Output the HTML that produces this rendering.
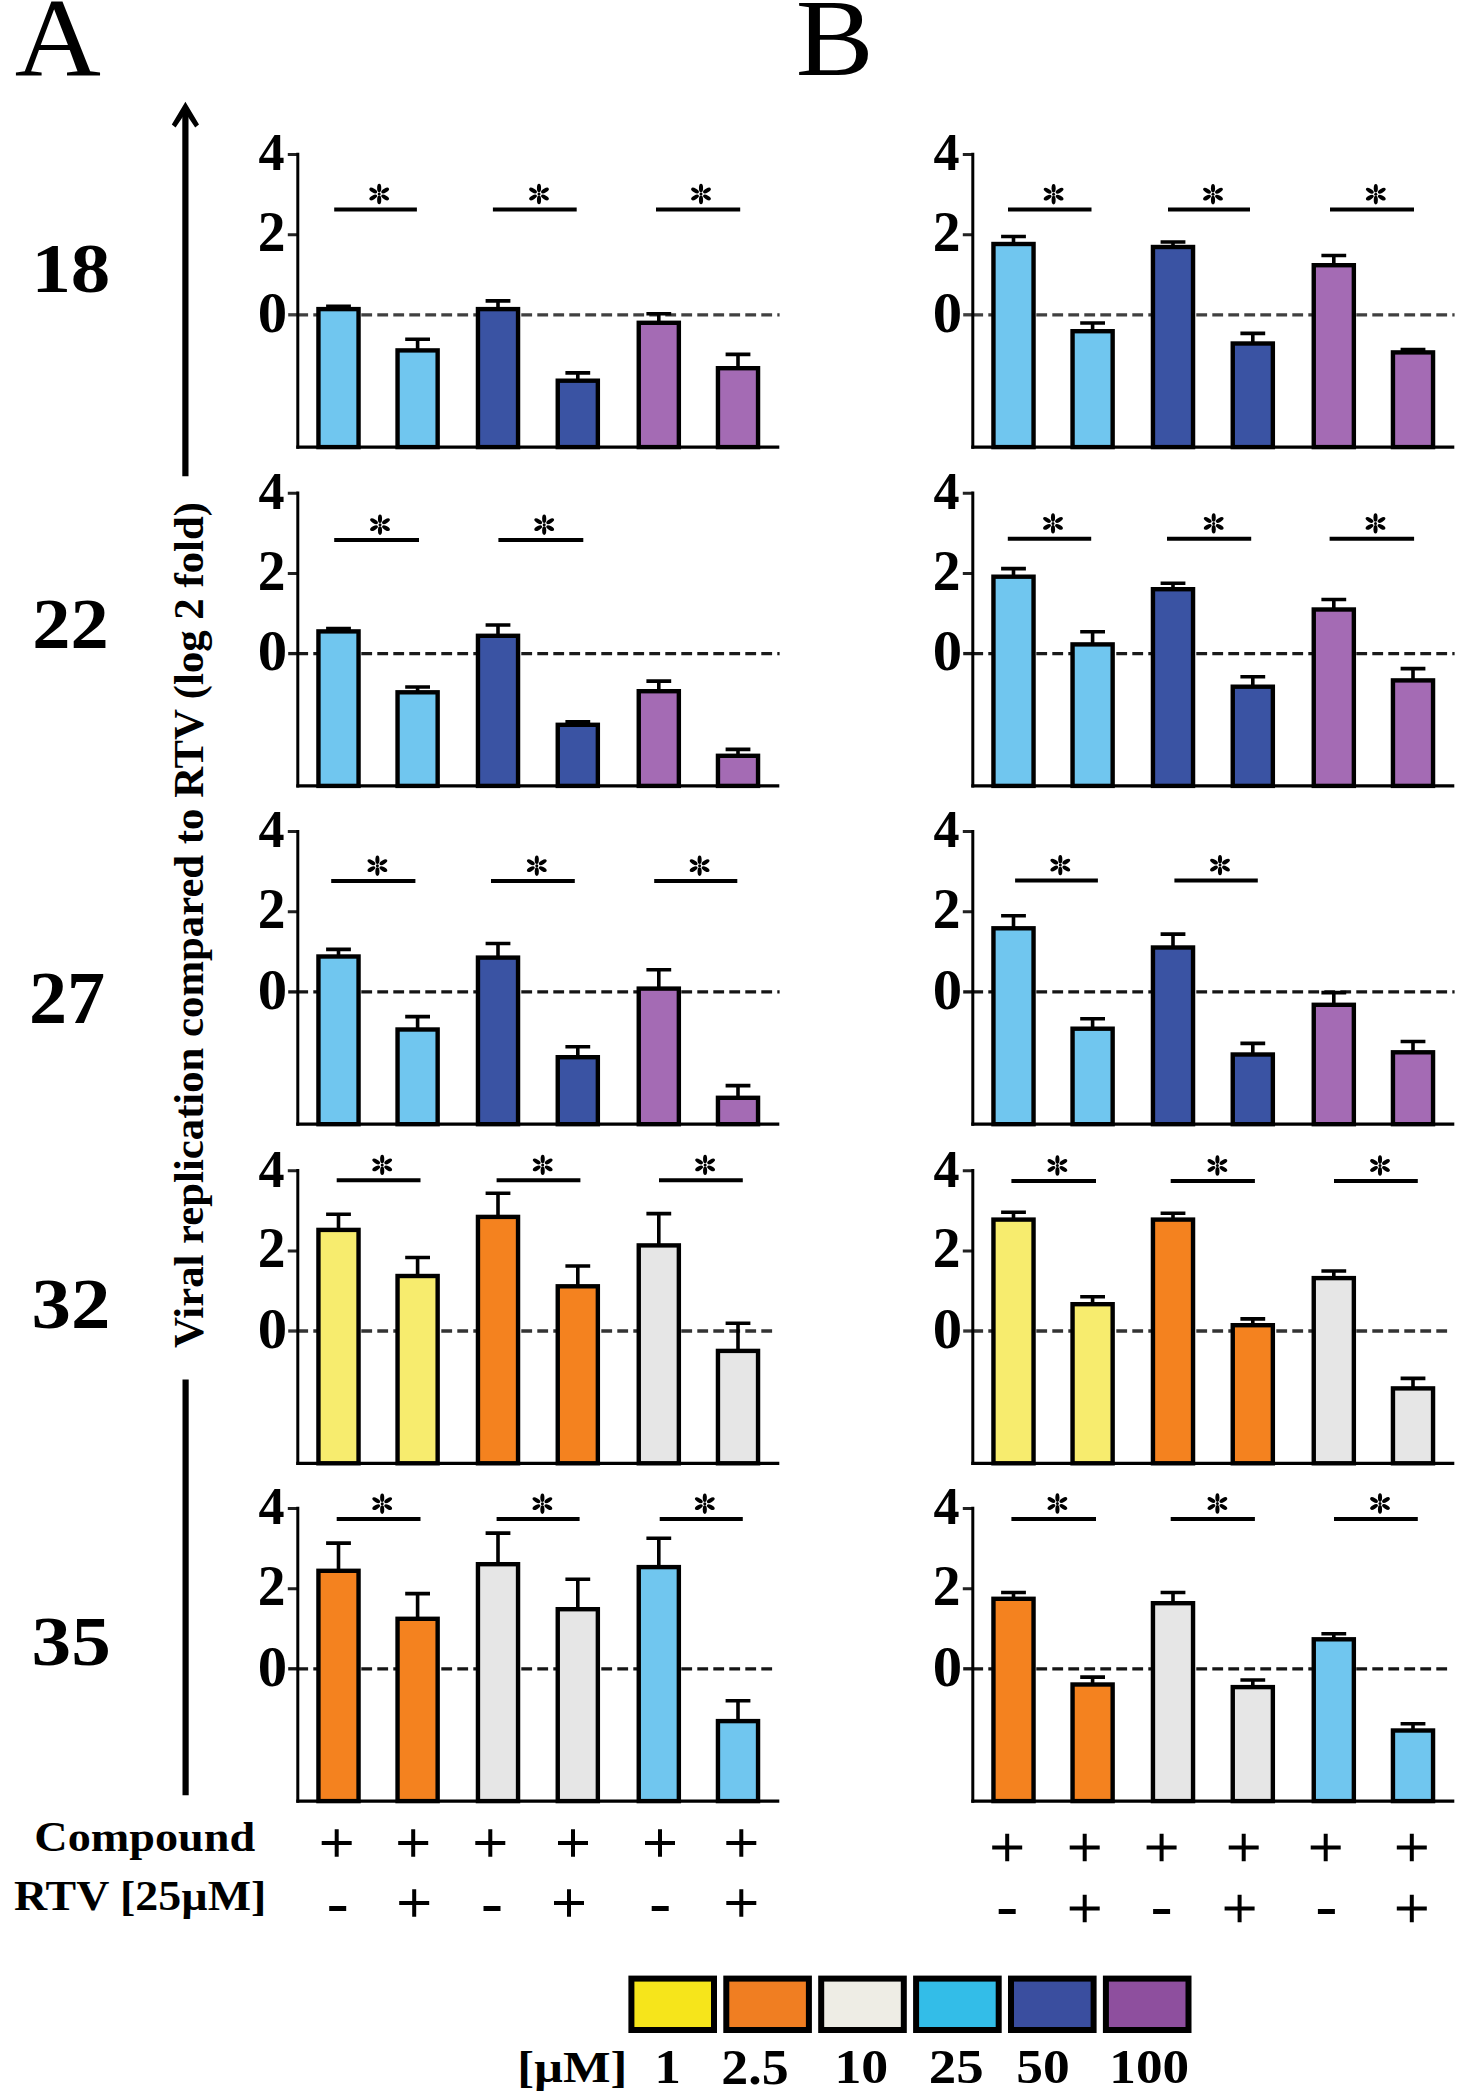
<!DOCTYPE html>
<html><head><meta charset="utf-8"><style>
html,body{margin:0;padding:0;background:#fff;}
svg{display:block;}
</style></head><body>
<svg width="1463" height="2100" viewBox="0 0 1463 2100">
<rect width="1463" height="2100" fill="#fff"/>
<defs><g id="ast" fill="#000"><ellipse cx="0.00" cy="5.90" rx="4.3" ry="2.05" transform="rotate(90 0.00 5.90)"/><ellipse cx="-0.00" cy="-5.90" rx="4.3" ry="2.05" transform="rotate(270 -0.00 -5.90)"/><ellipse cx="5.98" cy="3.45" rx="4.3" ry="2.05" transform="rotate(30 5.98 3.45)"/><ellipse cx="-5.98" cy="3.45" rx="4.3" ry="2.05" transform="rotate(150 -5.98 3.45)"/><ellipse cx="-5.98" cy="-3.45" rx="4.3" ry="2.05" transform="rotate(210 -5.98 -3.45)"/><ellipse cx="5.98" cy="-3.45" rx="4.3" ry="2.05" transform="rotate(330 5.98 -3.45)"/><circle r="1.5"/></g></defs>
<path d="M185.4 476.3V110M185.6 1379.6V1795.2" stroke="#000" stroke-width="6.2" fill="none"/>
<path d="M185.4 101.8L199 124.6L195.2 127.6L185.4 113L175.6 127.6L171.8 124.6Z" fill="#000"/>
<text transform="translate(203,1348) rotate(-90)" font-family="Liberation Serif" font-weight="bold" font-size="42.75">Viral replication compared to RTV (log 2 fold)</text>
<path d="M287.8 154.5H297.8M287.8 234.7H297.8" stroke="#222" stroke-width="3"/>
<line x1="297.3" y1="314.8" x2="779.6" y2="314.8" stroke="#404040" stroke-width="3.3" stroke-dasharray="10.8 5.2"/>
<line x1="288.2" y1="314.8" x2="297.8" y2="314.8" stroke="#404040" stroke-width="3.3"/>
<path d="M338.5 308.9V306.3M326.1 306.3H350.9" stroke="#000" stroke-width="3.6" fill="none"/>
<rect x="318.45" y="309.1" width="40.1" height="138" fill="#70C6EF" stroke="#000" stroke-width="4.4"/>
<path d="M417.6 350.2V339.3M405.2 339.3H430" stroke="#000" stroke-width="3.6" fill="none"/>
<rect x="397.55" y="350.4" width="40.1" height="96.7" fill="#70C6EF" stroke="#000" stroke-width="4.4"/>
<path d="M498 308.9V300.9M485.6 300.9H510.4" stroke="#000" stroke-width="3.6" fill="none"/>
<rect x="477.95" y="309.1" width="40.1" height="138" fill="#3A53A3" stroke="#000" stroke-width="4.4"/>
<path d="M577.8 380.5V372.9M565.4 372.9H590.2" stroke="#000" stroke-width="3.6" fill="none"/>
<rect x="557.75" y="380.7" width="40.1" height="66.4" fill="#3A53A3" stroke="#000" stroke-width="4.4"/>
<path d="M658.8 322.6V313.8M646.4 313.8H671.2" stroke="#000" stroke-width="3.6" fill="none"/>
<rect x="638.75" y="322.8" width="40.1" height="124.3" fill="#A46BB4" stroke="#000" stroke-width="4.4"/>
<path d="M738 368V354.4M725.6 354.4H750.4" stroke="#000" stroke-width="3.6" fill="none"/>
<rect x="717.95" y="368.2" width="40.1" height="78.9" fill="#A46BB4" stroke="#000" stroke-width="4.4"/>
<path d="M297.8 152.8V448.7" stroke="#000" stroke-width="3" fill="none"/>
<path d="M296.3 447.1H779.3" stroke="#000" stroke-width="3.2" fill="none"/>
<line x1="334.2" y1="209.4" x2="416.9" y2="209.4" stroke="#000" stroke-width="4"/>
<line x1="492.9" y1="209.4" x2="576.7" y2="209.4" stroke="#000" stroke-width="4"/>
<line x1="656" y1="209.4" x2="740.2" y2="209.4" stroke="#000" stroke-width="4"/>
<use href="#ast" x="379.2" y="194"/>
<use href="#ast" x="539" y="194"/>
<use href="#ast" x="701" y="194"/>
<path d="M962.8 154.5H972.8M962.8 234.7H972.8" stroke="#222" stroke-width="3"/>
<line x1="972.3" y1="314.8" x2="1454.6" y2="314.8" stroke="#404040" stroke-width="3.3" stroke-dasharray="10.8 5.2"/>
<line x1="963.2" y1="314.8" x2="972.8" y2="314.8" stroke="#404040" stroke-width="3.3"/>
<path d="M1013.5 243.8V236.5M1001.1 236.5H1025.9" stroke="#000" stroke-width="3.6" fill="none"/>
<rect x="993.45" y="244" width="40.1" height="203.1" fill="#70C6EF" stroke="#000" stroke-width="4.4"/>
<path d="M1092.6 331V323M1080.2 323H1105" stroke="#000" stroke-width="3.6" fill="none"/>
<rect x="1072.55" y="331.2" width="40.1" height="115.9" fill="#70C6EF" stroke="#000" stroke-width="4.4"/>
<path d="M1173 246.8V242M1160.6 242H1185.4" stroke="#000" stroke-width="3.6" fill="none"/>
<rect x="1152.95" y="247" width="40.1" height="200.1" fill="#3A53A3" stroke="#000" stroke-width="4.4"/>
<path d="M1252.8 343.3V333.4M1240.4 333.4H1265.2" stroke="#000" stroke-width="3.6" fill="none"/>
<rect x="1232.75" y="343.5" width="40.1" height="103.6" fill="#3A53A3" stroke="#000" stroke-width="4.4"/>
<path d="M1333.8 265V255.5M1321.4 255.5H1346.2" stroke="#000" stroke-width="3.6" fill="none"/>
<rect x="1313.75" y="265.2" width="40.1" height="181.9" fill="#A46BB4" stroke="#000" stroke-width="4.4"/>
<path d="M1413 352.2V349.6M1400.6 349.6H1425.4" stroke="#000" stroke-width="3.6" fill="none"/>
<rect x="1392.95" y="352.4" width="40.1" height="94.7" fill="#A46BB4" stroke="#000" stroke-width="4.4"/>
<path d="M972.8 152.8V448.7" stroke="#000" stroke-width="3" fill="none"/>
<path d="M971.3 447.1H1454.3" stroke="#000" stroke-width="3.2" fill="none"/>
<line x1="1008" y1="209.6" x2="1091.5" y2="209.6" stroke="#000" stroke-width="4"/>
<line x1="1168" y1="209.6" x2="1250" y2="209.6" stroke="#000" stroke-width="4"/>
<line x1="1330" y1="209.6" x2="1414" y2="209.6" stroke="#000" stroke-width="4"/>
<use href="#ast" x="1053.6" y="194.2"/>
<use href="#ast" x="1213" y="194.2"/>
<use href="#ast" x="1375.8" y="194.2"/>
<path d="M287.8 493.3H297.8M287.8 573.5H297.8" stroke="#222" stroke-width="3"/>
<line x1="297.3" y1="653.6" x2="779.6" y2="653.6" stroke="#1a1a1a" stroke-width="3.3" stroke-dasharray="10.8 5.2"/>
<line x1="288.2" y1="653.6" x2="297.8" y2="653.6" stroke="#1a1a1a" stroke-width="3.3"/>
<path d="M338.5 631.2V628.6M326.1 628.6H350.9" stroke="#000" stroke-width="3.6" fill="none"/>
<rect x="318.45" y="631.4" width="40.1" height="154.5" fill="#70C6EF" stroke="#000" stroke-width="4.4"/>
<path d="M417.6 692.1V687M405.2 687H430" stroke="#000" stroke-width="3.6" fill="none"/>
<rect x="397.55" y="692.3" width="40.1" height="93.6" fill="#70C6EF" stroke="#000" stroke-width="4.4"/>
<path d="M498 635.6V625M485.6 625H510.4" stroke="#000" stroke-width="3.6" fill="none"/>
<rect x="477.95" y="635.8" width="40.1" height="150.1" fill="#3A53A3" stroke="#000" stroke-width="4.4"/>
<path d="M577.8 724.6V721.7M565.4 721.7H590.2" stroke="#000" stroke-width="3.6" fill="none"/>
<rect x="557.75" y="724.8" width="40.1" height="61.1" fill="#3A53A3" stroke="#000" stroke-width="4.4"/>
<path d="M658.8 691V681.1M646.4 681.1H671.2" stroke="#000" stroke-width="3.6" fill="none"/>
<rect x="638.75" y="691.2" width="40.1" height="94.7" fill="#A46BB4" stroke="#000" stroke-width="4.4"/>
<path d="M738 755.6V749.4M725.6 749.4H750.4" stroke="#000" stroke-width="3.6" fill="none"/>
<rect x="717.95" y="755.8" width="40.1" height="30.1" fill="#A46BB4" stroke="#000" stroke-width="4.4"/>
<path d="M297.8 491.6V787.5" stroke="#000" stroke-width="3" fill="none"/>
<path d="M296.3 785.9H779.3" stroke="#000" stroke-width="3.2" fill="none"/>
<line x1="334.2" y1="540.1" x2="419" y2="540.1" stroke="#000" stroke-width="4"/>
<line x1="498.4" y1="540.1" x2="583.3" y2="540.1" stroke="#000" stroke-width="4"/>
<use href="#ast" x="380" y="524.7"/>
<use href="#ast" x="544.2" y="524.7"/>
<path d="M962.8 493.3H972.8M962.8 573.5H972.8" stroke="#222" stroke-width="3"/>
<line x1="972.3" y1="653.6" x2="1454.6" y2="653.6" stroke="#1a1a1a" stroke-width="3.3" stroke-dasharray="10.8 5.2"/>
<line x1="963.2" y1="653.6" x2="972.8" y2="653.6" stroke="#1a1a1a" stroke-width="3.3"/>
<path d="M1013.5 576.5V568.6M1001.1 568.6H1025.9" stroke="#000" stroke-width="3.6" fill="none"/>
<rect x="993.45" y="576.7" width="40.1" height="209.2" fill="#70C6EF" stroke="#000" stroke-width="4.4"/>
<path d="M1092.6 644.2V631.8M1080.2 631.8H1105" stroke="#000" stroke-width="3.6" fill="none"/>
<rect x="1072.55" y="644.4" width="40.1" height="141.5" fill="#70C6EF" stroke="#000" stroke-width="4.4"/>
<path d="M1173 589V583.3M1160.6 583.3H1185.4" stroke="#000" stroke-width="3.6" fill="none"/>
<rect x="1152.95" y="589.2" width="40.1" height="196.7" fill="#3A53A3" stroke="#000" stroke-width="4.4"/>
<path d="M1252.8 686.5V676.7M1240.4 676.7H1265.2" stroke="#000" stroke-width="3.6" fill="none"/>
<rect x="1232.75" y="686.7" width="40.1" height="99.2" fill="#3A53A3" stroke="#000" stroke-width="4.4"/>
<path d="M1333.8 609.3V599.5M1321.4 599.5H1346.2" stroke="#000" stroke-width="3.6" fill="none"/>
<rect x="1313.75" y="609.5" width="40.1" height="176.4" fill="#A46BB4" stroke="#000" stroke-width="4.4"/>
<path d="M1413 680.2V668.6M1400.6 668.6H1425.4" stroke="#000" stroke-width="3.6" fill="none"/>
<rect x="1392.95" y="680.4" width="40.1" height="105.5" fill="#A46BB4" stroke="#000" stroke-width="4.4"/>
<path d="M972.8 491.6V787.5" stroke="#000" stroke-width="3" fill="none"/>
<path d="M971.3 785.9H1454.3" stroke="#000" stroke-width="3.2" fill="none"/>
<line x1="1007.8" y1="538.8" x2="1091.2" y2="538.8" stroke="#000" stroke-width="4"/>
<line x1="1167" y1="538.8" x2="1251.2" y2="538.8" stroke="#000" stroke-width="4"/>
<line x1="1329.6" y1="538.8" x2="1414.1" y2="538.8" stroke="#000" stroke-width="4"/>
<use href="#ast" x="1053" y="523.4"/>
<use href="#ast" x="1213.7" y="523.4"/>
<use href="#ast" x="1375.5" y="523.4"/>
<path d="M287.8 831.6H297.8M287.8 911.8H297.8" stroke="#222" stroke-width="3"/>
<line x1="297.3" y1="991.9" x2="779.6" y2="991.9" stroke="#151515" stroke-width="3.3" stroke-dasharray="10.8 5.2"/>
<line x1="288.2" y1="991.9" x2="297.8" y2="991.9" stroke="#151515" stroke-width="3.3"/>
<path d="M338.5 956.3V949.4M326.1 949.4H350.9" stroke="#000" stroke-width="3.6" fill="none"/>
<rect x="318.45" y="956.5" width="40.1" height="167.7" fill="#70C6EF" stroke="#000" stroke-width="4.4"/>
<path d="M417.6 1029.3V1016.6M405.2 1016.6H430" stroke="#000" stroke-width="3.6" fill="none"/>
<rect x="397.55" y="1029.5" width="40.1" height="94.7" fill="#70C6EF" stroke="#000" stroke-width="4.4"/>
<path d="M498 957.4V943.5M485.6 943.5H510.4" stroke="#000" stroke-width="3.6" fill="none"/>
<rect x="477.95" y="957.6" width="40.1" height="166.6" fill="#3A53A3" stroke="#000" stroke-width="4.4"/>
<path d="M577.8 1057V1046.8M565.4 1046.8H590.2" stroke="#000" stroke-width="3.6" fill="none"/>
<rect x="557.75" y="1057.2" width="40.1" height="67" fill="#3A53A3" stroke="#000" stroke-width="4.4"/>
<path d="M658.8 988.4V969.7M646.4 969.7H671.2" stroke="#000" stroke-width="3.6" fill="none"/>
<rect x="638.75" y="988.6" width="40.1" height="135.6" fill="#A46BB4" stroke="#000" stroke-width="4.4"/>
<path d="M738 1097.6V1085.6M725.6 1085.6H750.4" stroke="#000" stroke-width="3.6" fill="none"/>
<rect x="717.95" y="1097.8" width="40.1" height="26.4" fill="#A46BB4" stroke="#000" stroke-width="4.4"/>
<path d="M297.8 829.9V1125.8" stroke="#000" stroke-width="3" fill="none"/>
<path d="M296.3 1124.2H779.3" stroke="#000" stroke-width="3.2" fill="none"/>
<line x1="331.2" y1="881.1" x2="415.4" y2="881.1" stroke="#000" stroke-width="4"/>
<line x1="491" y1="881.1" x2="574.8" y2="881.1" stroke="#000" stroke-width="4"/>
<line x1="654.2" y1="881.1" x2="737.3" y2="881.1" stroke="#000" stroke-width="4"/>
<use href="#ast" x="377.4" y="865.7"/>
<use href="#ast" x="536.8" y="865.7"/>
<use href="#ast" x="699.6" y="865.7"/>
<path d="M962.8 831.6H972.8M962.8 911.8H972.8" stroke="#222" stroke-width="3"/>
<line x1="972.3" y1="991.9" x2="1454.6" y2="991.9" stroke="#151515" stroke-width="3.3" stroke-dasharray="10.8 5.2"/>
<line x1="963.2" y1="991.9" x2="972.8" y2="991.9" stroke="#151515" stroke-width="3.3"/>
<path d="M1013.5 928.1V915.8M1001.1 915.8H1025.9" stroke="#000" stroke-width="3.6" fill="none"/>
<rect x="993.45" y="928.3" width="40.1" height="195.9" fill="#70C6EF" stroke="#000" stroke-width="4.4"/>
<path d="M1092.6 1028.5V1018.7M1080.2 1018.7H1105" stroke="#000" stroke-width="3.6" fill="none"/>
<rect x="1072.55" y="1028.7" width="40.1" height="95.5" fill="#70C6EF" stroke="#000" stroke-width="4.4"/>
<path d="M1173 947.3V934.1M1160.6 934.1H1185.4" stroke="#000" stroke-width="3.6" fill="none"/>
<rect x="1152.95" y="947.5" width="40.1" height="176.7" fill="#3A53A3" stroke="#000" stroke-width="4.4"/>
<path d="M1252.8 1054.3V1043.4M1240.4 1043.4H1265.2" stroke="#000" stroke-width="3.6" fill="none"/>
<rect x="1232.75" y="1054.5" width="40.1" height="69.7" fill="#3A53A3" stroke="#000" stroke-width="4.4"/>
<path d="M1333.8 1004.6V992.6M1321.4 992.6H1346.2" stroke="#000" stroke-width="3.6" fill="none"/>
<rect x="1313.75" y="1004.8" width="40.1" height="119.4" fill="#A46BB4" stroke="#000" stroke-width="4.4"/>
<path d="M1413 1052.1V1041.5M1400.6 1041.5H1425.4" stroke="#000" stroke-width="3.6" fill="none"/>
<rect x="1392.95" y="1052.3" width="40.1" height="71.9" fill="#A46BB4" stroke="#000" stroke-width="4.4"/>
<path d="M972.8 829.9V1125.8" stroke="#000" stroke-width="3" fill="none"/>
<path d="M971.3 1124.2H1454.3" stroke="#000" stroke-width="3.2" fill="none"/>
<line x1="1015.1" y1="880.5" x2="1097.9" y2="880.5" stroke="#000" stroke-width="4"/>
<line x1="1174.4" y1="880.5" x2="1257.8" y2="880.5" stroke="#000" stroke-width="4"/>
<use href="#ast" x="1060.3" y="865.1"/>
<use href="#ast" x="1220" y="865.1"/>
<path d="M287.8 1170.7H297.8M287.8 1250.9H297.8" stroke="#222" stroke-width="3"/>
<line x1="297.3" y1="1331" x2="773.8" y2="1331" stroke="#333333" stroke-width="3.3" stroke-dasharray="10.8 5.2"/>
<line x1="288.2" y1="1331" x2="297.8" y2="1331" stroke="#333333" stroke-width="3.3"/>
<path d="M338.5 1229.7V1214.3M326.1 1214.3H350.9" stroke="#000" stroke-width="3.6" fill="none"/>
<rect x="318.45" y="1229.9" width="40.1" height="233.4" fill="#F7EC6E" stroke="#000" stroke-width="4.4"/>
<path d="M417.6 1275.8V1257.5M405.2 1257.5H430" stroke="#000" stroke-width="3.6" fill="none"/>
<rect x="397.55" y="1276" width="40.1" height="187.3" fill="#F7EC6E" stroke="#000" stroke-width="4.4"/>
<path d="M498 1216.7V1193.2M485.6 1193.2H510.4" stroke="#000" stroke-width="3.6" fill="none"/>
<rect x="477.95" y="1216.9" width="40.1" height="246.4" fill="#F4821F" stroke="#000" stroke-width="4.4"/>
<path d="M577.8 1286.1V1266M565.4 1266H590.2" stroke="#000" stroke-width="3.6" fill="none"/>
<rect x="557.75" y="1286.3" width="40.1" height="177" fill="#F4821F" stroke="#000" stroke-width="4.4"/>
<path d="M658.8 1245.2V1213.6M646.4 1213.6H671.2" stroke="#000" stroke-width="3.6" fill="none"/>
<rect x="638.75" y="1245.4" width="40.1" height="217.9" fill="#E6E6E6" stroke="#000" stroke-width="4.4"/>
<path d="M738 1350.7V1323.2M725.6 1323.2H750.4" stroke="#000" stroke-width="3.6" fill="none"/>
<rect x="717.95" y="1350.9" width="40.1" height="112.4" fill="#E6E6E6" stroke="#000" stroke-width="4.4"/>
<path d="M297.8 1169V1464.9" stroke="#000" stroke-width="3" fill="none"/>
<path d="M296.3 1463.3H779.3" stroke="#000" stroke-width="3.2" fill="none"/>
<line x1="336.7" y1="1180.3" x2="420.5" y2="1180.3" stroke="#000" stroke-width="4"/>
<line x1="496.6" y1="1180.3" x2="580.4" y2="1180.3" stroke="#000" stroke-width="4"/>
<line x1="659" y1="1180.3" x2="742.8" y2="1180.3" stroke="#000" stroke-width="4"/>
<use href="#ast" x="382.2" y="1164.9"/>
<use href="#ast" x="542.7" y="1164.9"/>
<use href="#ast" x="705.1" y="1164.9"/>
<path d="M962.8 1170.7H972.8M962.8 1250.9H972.8" stroke="#222" stroke-width="3"/>
<line x1="972.3" y1="1331" x2="1448.8" y2="1331" stroke="#333333" stroke-width="3.3" stroke-dasharray="10.8 5.2"/>
<line x1="963.2" y1="1331" x2="972.8" y2="1331" stroke="#333333" stroke-width="3.3"/>
<path d="M1013.5 1219.4V1212.2M1001.1 1212.2H1025.9" stroke="#000" stroke-width="3.6" fill="none"/>
<rect x="993.45" y="1219.6" width="40.1" height="243.7" fill="#F7EC6E" stroke="#000" stroke-width="4.4"/>
<path d="M1092.6 1304V1296.8M1080.2 1296.8H1105" stroke="#000" stroke-width="3.6" fill="none"/>
<rect x="1072.55" y="1304.2" width="40.1" height="159.1" fill="#F7EC6E" stroke="#000" stroke-width="4.4"/>
<path d="M1173 1219.4V1213.3M1160.6 1213.3H1185.4" stroke="#000" stroke-width="3.6" fill="none"/>
<rect x="1152.95" y="1219.6" width="40.1" height="243.7" fill="#F4821F" stroke="#000" stroke-width="4.4"/>
<path d="M1252.8 1325V1318.9M1240.4 1318.9H1265.2" stroke="#000" stroke-width="3.6" fill="none"/>
<rect x="1232.75" y="1325.2" width="40.1" height="138.1" fill="#F4821F" stroke="#000" stroke-width="4.4"/>
<path d="M1333.8 1277.9V1271M1321.4 1271H1346.2" stroke="#000" stroke-width="3.6" fill="none"/>
<rect x="1313.75" y="1278.1" width="40.1" height="185.2" fill="#E6E6E6" stroke="#000" stroke-width="4.4"/>
<path d="M1413 1388.2V1378.4M1400.6 1378.4H1425.4" stroke="#000" stroke-width="3.6" fill="none"/>
<rect x="1392.95" y="1388.4" width="40.1" height="74.9" fill="#E6E6E6" stroke="#000" stroke-width="4.4"/>
<path d="M972.8 1169V1464.9" stroke="#000" stroke-width="3" fill="none"/>
<path d="M971.3 1463.3H1454.3" stroke="#000" stroke-width="3.2" fill="none"/>
<line x1="1011.4" y1="1180.9" x2="1096" y2="1180.9" stroke="#000" stroke-width="4"/>
<line x1="1170.7" y1="1180.9" x2="1254.9" y2="1180.9" stroke="#000" stroke-width="4"/>
<line x1="1334" y1="1180.9" x2="1417.8" y2="1180.9" stroke="#000" stroke-width="4"/>
<use href="#ast" x="1057.4" y="1165.5"/>
<use href="#ast" x="1217.4" y="1165.5"/>
<use href="#ast" x="1380" y="1165.5"/>
<path d="M287.8 1508.5H297.8M287.8 1588.7H297.8" stroke="#222" stroke-width="3"/>
<line x1="297.3" y1="1668.8" x2="773.8" y2="1668.8" stroke="#151515" stroke-width="3.3" stroke-dasharray="10.8 5.2"/>
<line x1="288.2" y1="1668.8" x2="297.8" y2="1668.8" stroke="#151515" stroke-width="3.3"/>
<path d="M338.5 1570.6V1543.1M326.1 1543.1H350.9" stroke="#000" stroke-width="3.6" fill="none"/>
<rect x="318.45" y="1570.8" width="40.1" height="230.3" fill="#F4821F" stroke="#000" stroke-width="4.4"/>
<path d="M417.6 1618.6V1593.6M405.2 1593.6H430" stroke="#000" stroke-width="3.6" fill="none"/>
<rect x="397.55" y="1618.8" width="40.1" height="182.3" fill="#F4821F" stroke="#000" stroke-width="4.4"/>
<path d="M498 1564V1533.1M485.6 1533.1H510.4" stroke="#000" stroke-width="3.6" fill="none"/>
<rect x="477.95" y="1564.2" width="40.1" height="236.9" fill="#E6E6E6" stroke="#000" stroke-width="4.4"/>
<path d="M577.8 1609V1579.2M565.4 1579.2H590.2" stroke="#000" stroke-width="3.6" fill="none"/>
<rect x="557.75" y="1609.2" width="40.1" height="191.9" fill="#E6E6E6" stroke="#000" stroke-width="4.4"/>
<path d="M658.8 1566.9V1538.3M646.4 1538.3H671.2" stroke="#000" stroke-width="3.6" fill="none"/>
<rect x="638.75" y="1567.1" width="40.1" height="234" fill="#70C6EF" stroke="#000" stroke-width="4.4"/>
<path d="M738 1720.9V1700.7M725.6 1700.7H750.4" stroke="#000" stroke-width="3.6" fill="none"/>
<rect x="717.95" y="1721.1" width="40.1" height="80" fill="#70C6EF" stroke="#000" stroke-width="4.4"/>
<path d="M297.8 1506.8V1802.7" stroke="#000" stroke-width="3" fill="none"/>
<path d="M296.3 1801.1H779.3" stroke="#000" stroke-width="3.2" fill="none"/>
<line x1="336.7" y1="1519.1" x2="420.5" y2="1519.1" stroke="#000" stroke-width="4"/>
<line x1="496.6" y1="1519.1" x2="579.6" y2="1519.1" stroke="#000" stroke-width="4"/>
<line x1="659.7" y1="1519.1" x2="742.8" y2="1519.1" stroke="#000" stroke-width="4"/>
<use href="#ast" x="382.2" y="1503.7"/>
<use href="#ast" x="542.4" y="1503.7"/>
<use href="#ast" x="704.8" y="1503.7"/>
<path d="M962.8 1508.5H972.8M962.8 1588.7H972.8" stroke="#222" stroke-width="3"/>
<line x1="972.3" y1="1668.8" x2="1448.8" y2="1668.8" stroke="#151515" stroke-width="3.3" stroke-dasharray="10.8 5.2"/>
<line x1="963.2" y1="1668.8" x2="972.8" y2="1668.8" stroke="#151515" stroke-width="3.3"/>
<path d="M1013.5 1598.6V1592.5M1001.1 1592.5H1025.9" stroke="#000" stroke-width="3.6" fill="none"/>
<rect x="993.45" y="1598.8" width="40.1" height="202.3" fill="#F4821F" stroke="#000" stroke-width="4.4"/>
<path d="M1092.6 1684.3V1677.1M1080.2 1677.1H1105" stroke="#000" stroke-width="3.6" fill="none"/>
<rect x="1072.55" y="1684.5" width="40.1" height="116.6" fill="#F4821F" stroke="#000" stroke-width="4.4"/>
<path d="M1173 1603V1592.5M1160.6 1592.5H1185.4" stroke="#000" stroke-width="3.6" fill="none"/>
<rect x="1152.95" y="1603.2" width="40.1" height="197.9" fill="#E6E6E6" stroke="#000" stroke-width="4.4"/>
<path d="M1252.8 1686.9V1680M1240.4 1680H1265.2" stroke="#000" stroke-width="3.6" fill="none"/>
<rect x="1232.75" y="1687.1" width="40.1" height="114" fill="#E6E6E6" stroke="#000" stroke-width="4.4"/>
<path d="M1333.8 1639.1V1633.7M1321.4 1633.7H1346.2" stroke="#000" stroke-width="3.6" fill="none"/>
<rect x="1313.75" y="1639.3" width="40.1" height="161.8" fill="#70C6EF" stroke="#000" stroke-width="4.4"/>
<path d="M1413 1730.3V1723.8M1400.6 1723.8H1425.4" stroke="#000" stroke-width="3.6" fill="none"/>
<rect x="1392.95" y="1730.5" width="40.1" height="70.6" fill="#70C6EF" stroke="#000" stroke-width="4.4"/>
<path d="M972.8 1506.8V1802.7" stroke="#000" stroke-width="3" fill="none"/>
<path d="M971.3 1801.1H1454.3" stroke="#000" stroke-width="3.2" fill="none"/>
<line x1="1011.4" y1="1518.9" x2="1096" y2="1518.9" stroke="#000" stroke-width="4"/>
<line x1="1170.7" y1="1518.9" x2="1254.9" y2="1518.9" stroke="#000" stroke-width="4"/>
<line x1="1334" y1="1518.9" x2="1417.8" y2="1518.9" stroke="#000" stroke-width="4"/>
<use href="#ast" x="1057.4" y="1503.5"/>
<use href="#ast" x="1217.4" y="1503.5"/>
<use href="#ast" x="1380" y="1503.5"/>
<path d="M321.7 1842.9H351.7M336.7 1829.15V1856.65" stroke="#000" stroke-width="4" fill="none"/>
<path d="M398.2 1842.9H428.2M413.2 1829.15V1856.65" stroke="#000" stroke-width="4" fill="none"/>
<path d="M475.3 1842.9H505.3M490.3 1829.15V1856.65" stroke="#000" stroke-width="4" fill="none"/>
<path d="M558 1842.9H588M573 1829.15V1856.65" stroke="#000" stroke-width="4" fill="none"/>
<path d="M645 1842.9H675M660 1829.15V1856.65" stroke="#000" stroke-width="4" fill="none"/>
<path d="M726.3 1842.9H756.3M741.3 1829.15V1856.65" stroke="#000" stroke-width="4" fill="none"/>
<path d="M329.2 1908.5H346.2" stroke="#000" stroke-width="5" fill="none"/>
<path d="M399.2 1902.9H429.2M414.2 1889.15V1916.65" stroke="#000" stroke-width="4" fill="none"/>
<path d="M483.5 1908.5H500.5" stroke="#000" stroke-width="5" fill="none"/>
<path d="M554 1902.9H584M569 1889.15V1916.65" stroke="#000" stroke-width="4" fill="none"/>
<path d="M651.7 1908.5H668.7" stroke="#000" stroke-width="5" fill="none"/>
<path d="M726.3 1902.9H756.3M741.3 1889.15V1916.65" stroke="#000" stroke-width="4" fill="none"/>
<path d="M992.2 1847.5H1022.2M1007.2 1833.75V1861.25" stroke="#000" stroke-width="4" fill="none"/>
<path d="M1069.7 1847.5H1099.7M1084.7 1833.75V1861.25" stroke="#000" stroke-width="4" fill="none"/>
<path d="M1146.6 1847.5H1176.6M1161.6 1833.75V1861.25" stroke="#000" stroke-width="4" fill="none"/>
<path d="M1228.7 1847.5H1258.7M1243.7 1833.75V1861.25" stroke="#000" stroke-width="4" fill="none"/>
<path d="M1310.7 1847.5H1340.7M1325.7 1833.75V1861.25" stroke="#000" stroke-width="4" fill="none"/>
<path d="M1396.8 1847.5H1426.8M1411.8 1833.75V1861.25" stroke="#000" stroke-width="4" fill="none"/>
<path d="M998.7 1911.5H1015.7" stroke="#000" stroke-width="5" fill="none"/>
<path d="M1069.7 1908.4H1099.7M1084.7 1894.65V1922.15" stroke="#000" stroke-width="4" fill="none"/>
<path d="M1153.1 1911.5H1170.1" stroke="#000" stroke-width="5" fill="none"/>
<path d="M1224.6 1908.4H1254.6M1239.6 1894.65V1922.15" stroke="#000" stroke-width="4" fill="none"/>
<path d="M1317.9 1911.5H1334.9" stroke="#000" stroke-width="5" fill="none"/>
<path d="M1396.8 1908.4H1426.8M1411.8 1894.65V1922.15" stroke="#000" stroke-width="4" fill="none"/>
<rect x="631.4" y="1978.6" width="82.6" height="51.4" fill="#F6E51B" stroke="#000" stroke-width="6"/>
<rect x="726.3" y="1978.6" width="82.6" height="51.4" fill="#F07E22" stroke="#000" stroke-width="6"/>
<rect x="821.2" y="1978.6" width="82.6" height="51.4" fill="#EEEDE5" stroke="#000" stroke-width="6"/>
<rect x="916.1" y="1978.6" width="82.6" height="51.4" fill="#33BDE8" stroke="#000" stroke-width="6"/>
<rect x="1011" y="1978.6" width="82.6" height="51.4" fill="#3A4E9F" stroke="#000" stroke-width="6"/>
<rect x="1105.9" y="1978.6" width="82.6" height="51.4" fill="#8E4F9E" stroke="#000" stroke-width="6"/>
<g font-family="Liberation Serif" font-size="100">
<text transform="translate(14.81,75.72) scale(1.1929,1.1200)">A</text>
<text transform="translate(795.80,75.00) scale(1.1678,1.1031)">B</text>
<text transform="translate(31.38,291.79) scale(0.7899,0.7029)" font-weight="bold">18</text>
<text transform="translate(32.34,647.87) scale(0.7641,0.7288)" font-weight="bold">22</text>
<text transform="translate(28.96,1023.27) scale(0.7606,0.7348)" font-weight="bold">27</text>
<text transform="translate(31.55,1328.47) scale(0.7880,0.7134)" font-weight="bold">32</text>
<text transform="translate(31.53,1665.40) scale(0.7924,0.7015)" font-weight="bold">35</text>
<text transform="translate(34.29,1850.50) scale(0.4621,0.4189)" font-weight="bold">Compound</text>
<text transform="translate(14.08,1910.40) scale(0.4593,0.4189)" font-weight="bold">RTV [25µM]</text>
<text transform="translate(517.27,2082.13) scale(0.5039,0.4511)" font-weight="bold">[µM]</text>
<text transform="translate(654.48,2083.30) scale(0.5270,0.4894)" font-weight="bold">1</text>
<text transform="translate(721.34,2083.70) scale(0.5393,0.5030)" font-weight="bold">2.5</text>
<text transform="translate(834.39,2082.64) scale(0.5386,0.4794)" font-weight="bold">10</text>
<text transform="translate(928.80,2083.11) scale(0.5489,0.4939)" font-weight="bold">25</text>
<text transform="translate(1016.26,2082.63) scale(0.5348,0.4866)" font-weight="bold">50</text>
<text transform="translate(1109.34,2082.64) scale(0.5319,0.4794)" font-weight="bold">100</text>
<text transform="translate(258.48,170.30) scale(0.5213,0.5354)" font-weight="bold">4</text>
<text transform="translate(257.78,250.74) scale(0.5548,0.5606)" font-weight="bold">2</text>
<text transform="translate(257.65,331.57) scale(0.5881,0.5672)" font-weight="bold">0</text>
<text transform="translate(933.48,170.30) scale(0.5213,0.5354)" font-weight="bold">4</text>
<text transform="translate(932.78,250.74) scale(0.5548,0.5606)" font-weight="bold">2</text>
<text transform="translate(932.65,331.57) scale(0.5881,0.5672)" font-weight="bold">0</text>
<text transform="translate(258.48,509.10) scale(0.5213,0.5354)" font-weight="bold">4</text>
<text transform="translate(257.78,589.54) scale(0.5548,0.5606)" font-weight="bold">2</text>
<text transform="translate(257.65,670.37) scale(0.5881,0.5672)" font-weight="bold">0</text>
<text transform="translate(933.48,509.10) scale(0.5213,0.5354)" font-weight="bold">4</text>
<text transform="translate(932.78,589.54) scale(0.5548,0.5606)" font-weight="bold">2</text>
<text transform="translate(932.65,670.37) scale(0.5881,0.5672)" font-weight="bold">0</text>
<text transform="translate(258.48,847.40) scale(0.5213,0.5354)" font-weight="bold">4</text>
<text transform="translate(257.78,927.84) scale(0.5548,0.5606)" font-weight="bold">2</text>
<text transform="translate(257.65,1008.67) scale(0.5881,0.5672)" font-weight="bold">0</text>
<text transform="translate(933.48,847.40) scale(0.5213,0.5354)" font-weight="bold">4</text>
<text transform="translate(932.78,927.84) scale(0.5548,0.5606)" font-weight="bold">2</text>
<text transform="translate(932.65,1008.67) scale(0.5881,0.5672)" font-weight="bold">0</text>
<text transform="translate(258.48,1186.50) scale(0.5213,0.5354)" font-weight="bold">4</text>
<text transform="translate(257.78,1266.94) scale(0.5548,0.5606)" font-weight="bold">2</text>
<text transform="translate(257.65,1347.77) scale(0.5881,0.5672)" font-weight="bold">0</text>
<text transform="translate(933.48,1186.50) scale(0.5213,0.5354)" font-weight="bold">4</text>
<text transform="translate(932.78,1266.94) scale(0.5548,0.5606)" font-weight="bold">2</text>
<text transform="translate(932.65,1347.77) scale(0.5881,0.5672)" font-weight="bold">0</text>
<text transform="translate(258.48,1524.30) scale(0.5213,0.5354)" font-weight="bold">4</text>
<text transform="translate(257.78,1604.74) scale(0.5548,0.5606)" font-weight="bold">2</text>
<text transform="translate(257.65,1685.57) scale(0.5881,0.5672)" font-weight="bold">0</text>
<text transform="translate(933.48,1524.30) scale(0.5213,0.5354)" font-weight="bold">4</text>
<text transform="translate(932.78,1604.74) scale(0.5548,0.5606)" font-weight="bold">2</text>
<text transform="translate(932.65,1685.57) scale(0.5881,0.5672)" font-weight="bold">0</text>
</g>
</svg>
</body></html>
